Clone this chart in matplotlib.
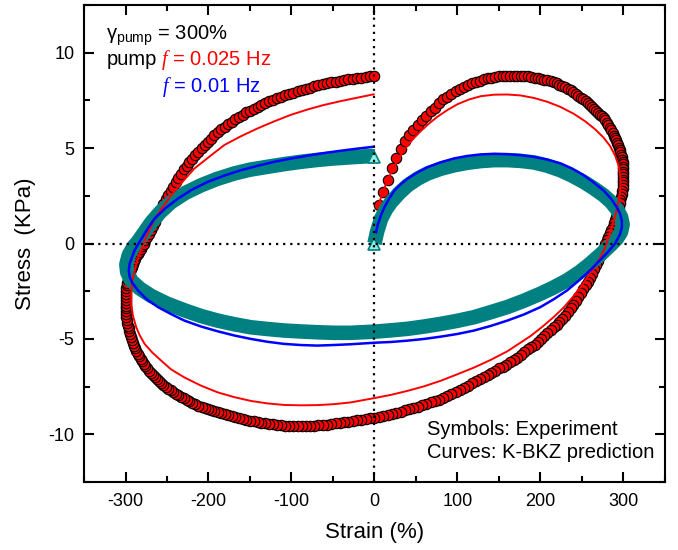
import matplotlib
matplotlib.use("Agg")
import matplotlib.pyplot as plt
from matplotlib.ticker import MultipleLocator

plt.rcParams['font.family'] = ['Liberation Sans', 'DejaVu Sans']
plt.rcParams['mathtext.fontset'] = 'custom'
plt.rcParams['mathtext.rm'] = 'Liberation Sans'
plt.rcParams['mathtext.it'] = 'Liberation Serif:italic'
plt.rcParams['mathtext.bf'] = 'Liberation Sans:bold'
plt.rcParams['axes.unicode_minus'] = False

# ---------------- data ----------------
# Experiment, pump f = 0.025 Hz (red circles), one cycle in four quarters
red_strain_a = [5.2, 10.5, 15.7, 20.9, 26.1, 31.4, 36.6, 41.8, 46.9, 52.1, 57.2, 62.4, 67.5, 72.6, 77.6,
                82.7, 87.7, 92.7, 97.7, 102.6, 107.5, 112.4, 117.2, 122.0, 126.8, 131.5, 136.2, 140.8,
                145.4, 150.0, 154.5, 159.0, 163.4, 167.8, 172.1, 176.3, 180.5, 184.7, 188.8, 192.8,
                196.8, 200.7, 204.6, 208.4, 212.1, 215.8, 219.4, 222.9, 226.4, 229.8, 233.1, 236.4,
                239.6, 242.7, 245.7, 248.7, 251.6, 254.4, 257.2, 259.8, 262.4, 264.9, 267.3, 269.6,
                271.9, 274.1, 276.2, 278.2, 280.1, 281.9, 283.7, 285.3, 286.9, 288.4, 289.8, 291.1,
                292.3, 293.4, 294.5, 295.4, 296.3, 297.1, 297.8, 298.4, 298.9, 299.3, 299.6, 299.8,
                300.0, 300.0]
red_stress_a = [2.0, 2.7, 3.35, 3.95, 4.48, 4.95, 5.35, 5.7, 5.97, 6.22, 6.47, 6.7, 6.92, 7.12, 7.34,
                7.55, 7.7, 7.85, 7.99, 8.12, 8.22, 8.32, 8.4, 8.48, 8.54, 8.6, 8.65, 8.7, 8.73, 8.76,
                8.78, 8.8, 8.8, 8.8, 8.8, 8.79, 8.78, 8.76, 8.73, 8.7, 8.67, 8.63, 8.59, 8.55, 8.5,
                8.45, 8.39, 8.32, 8.25, 8.18, 8.1, 8.02, 7.93, 7.84, 7.75, 7.65, 7.56, 7.47, 7.38,
                7.28, 7.17, 7.06, 6.96, 6.86, 6.76, 6.66, 6.56, 6.45, 6.33, 6.2, 6.07, 5.93, 5.79,
                5.65, 5.52, 5.4, 5.27, 5.15, 5.02, 4.9, 4.77, 4.65, 4.52, 4.4, 4.27, 4.15, 4.02, 3.9,
                3.77, 3.65]
red_strain_b = [300.0, 299.8, 299.6, 299.3, 298.9, 298.4, 297.8, 297.1, 296.3, 295.4, 294.5, 293.4,
                292.3, 291.1, 289.8, 288.4, 286.9, 285.3, 283.7, 281.9, 280.1, 278.2, 276.2, 274.1,
                271.9, 269.6, 267.3, 264.9, 262.4, 259.8, 257.2, 254.4, 251.6, 248.7, 245.7, 242.7,
                239.6, 236.4, 233.1, 229.8, 226.4, 222.9, 219.4, 215.8, 212.1, 208.4, 204.6, 200.7,
                196.8, 192.8, 188.8, 184.7, 180.5, 176.3, 172.1, 167.8, 163.4, 159.0, 154.5, 150.0,
                145.4, 140.8, 136.2, 131.5, 126.8, 122.0, 117.2, 112.4, 107.5, 102.6, 97.7, 92.7,
                87.7, 82.7, 77.6, 72.6, 67.5, 62.4, 57.2, 52.1, 46.9, 41.8, 36.6, 31.4, 26.1, 20.9,
                15.7, 10.5, 5.2, 0.0]
red_stress_b = [3.5, 3.35, 3.2, 3.05, 2.9, 2.75, 2.6, 2.45, 2.28, 2.1, 1.93, 1.75, 1.58, 1.4, 1.23,
                1.05, 0.88, 0.7, 0.53, 0.35, 0.18, 0.0, -0.22, -0.45, -0.68, -0.9, -1.12, -1.35, -1.58,
                -1.8, -2.0, -2.2, -2.4, -2.6, -2.8, -3.0, -3.2, -3.4, -3.6, -3.8, -3.95, -4.1, -4.25,
                -4.4, -4.55, -4.7, -4.85, -5.0, -5.15, -5.3, -5.43, -5.55, -5.7, -5.85, -5.98, -6.1,
                -6.23, -6.35, -6.45, -6.55, -6.68, -6.8, -6.9, -7.0, -7.11, -7.22, -7.33, -7.45,
                -7.56, -7.66, -7.78, -7.9, -8.0, -8.1, -8.18, -8.25, -8.33, -8.4, -8.48, -8.55, -8.62,
                -8.68, -8.75, -8.82, -8.89, -8.95, -9.0, -9.05, -9.09, -9.12]
red_strain_c = [-5.2, -10.5, -15.7, -20.9, -26.1, -31.4, -36.6, -41.8, -46.9, -52.1, -57.2, -62.4,
                -67.5, -72.6, -77.6, -82.7, -87.7, -92.7, -97.7, -102.6, -107.5, -112.4, -117.2,
                -122.0, -126.8, -131.5, -136.2, -140.8, -145.4, -150.0, -154.5, -159.0, -163.4,
                -167.8, -172.1, -176.3, -180.5, -184.7, -188.8, -192.8, -196.8, -200.7, -204.6,
                -208.4, -212.1, -215.8, -219.4, -222.9, -226.4, -229.8, -233.1, -236.4, -239.6,
                -242.7, -245.7, -248.7, -251.6, -254.4, -257.2, -259.8, -262.4, -264.9, -267.3,
                -269.6, -271.9, -274.1, -276.2, -278.2, -280.1, -281.9, -283.7, -285.3, -286.9,
                -288.4, -289.8, -291.1, -292.3, -293.4, -294.5, -295.4, -296.3, -297.1, -297.8,
                -298.4, -298.9, -299.3, -299.6, -299.8, -300.0, -300.0]
red_stress_c = [-9.16, -9.2, -9.24, -9.27, -9.3, -9.33, -9.37, -9.4, -9.43, -9.46, -9.49, -9.51, -9.53,
                -9.54, -9.55, -9.56, -9.56, -9.56, -9.56, -9.55, -9.54, -9.52, -9.5, -9.48, -9.45,
                -9.42, -9.39, -9.35, -9.32, -9.28, -9.24, -9.2, -9.15, -9.1, -9.05, -9.0, -8.95, -8.9,
                -8.85, -8.79, -8.73, -8.67, -8.61, -8.55, -8.49, -8.42, -8.35, -8.28, -8.2, -8.12,
                -8.04, -7.95, -7.87, -7.78, -7.69, -7.6, -7.51, -7.42, -7.32, -7.22, -7.12, -7.02,
                -6.91, -6.8, -6.68, -6.55, -6.43, -6.3, -6.18, -6.05, -5.92, -5.78, -5.64, -5.5, -5.35,
                -5.2, -5.05, -4.9, -4.75, -4.6, -4.45, -4.3, -4.15, -4.0, -3.85, -3.7, -3.55, -3.4,
                -3.25, -3.1]
red_strain_d = [-300.0, -299.8, -299.6, -299.3, -298.9, -298.4, -297.8, -297.1, -296.3, -295.4, -294.5,
                -293.4, -292.3, -291.1, -289.8, -288.4, -286.9, -285.3, -283.7, -281.9, -280.1, -278.2,
                -276.2, -274.1, -271.9, -269.6, -267.3, -264.9, -262.4, -259.8, -257.2, -254.4, -251.6,
                -248.7, -245.7, -242.7, -239.6, -236.4, -233.1, -229.8, -226.4, -222.9, -219.4, -215.8,
                -212.1, -208.4, -204.6, -200.7, -196.8, -192.8, -188.8, -184.7, -180.5, -176.3, -172.1,
                -167.8, -163.4, -159.0, -154.5, -150.0, -145.4, -140.8, -136.2, -131.5, -126.8, -122.0,
                -117.2, -112.4, -107.5, -102.6, -97.7, -92.7, -87.7, -82.7, -77.6, -72.6, -67.5, -62.4,
                -57.2, -52.1, -46.9, -41.8, -36.6, -31.4, -26.1, -20.9, -15.7, -10.5, -5.2, 0.0]
red_stress_d = [-2.95, -2.8, -2.65, -2.5, -2.35, -2.2, -2.05, -1.9, -1.76, -1.62, -1.48, -1.35, -1.22,
                -1.08, -0.94, -0.8, -0.68, -0.55, -0.43, -0.3, -0.15, 0.0, 0.17, 0.35, 0.52, 0.7, 0.92,
                1.15, 1.37, 1.6, 1.83, 2.07, 2.31, 2.55, 2.77, 2.98, 3.2, 3.42, 3.65, 3.88, 4.08, 4.27,
                4.45, 4.63, 4.81, 4.99, 5.16, 5.33, 5.5, 5.67, 5.83, 5.98, 6.12, 6.26, 6.39, 6.52, 6.64,
                6.76, 6.87, 6.97, 7.07, 7.17, 7.27, 7.36, 7.45, 7.53, 7.61, 7.69, 7.77, 7.84, 7.91,
                7.97, 8.04, 8.1, 8.17, 8.23, 8.29, 8.35, 8.4, 8.44, 8.48, 8.52, 8.56, 8.6, 8.64, 8.67,
                8.7, 8.73, 8.77, 8.8]

# Experiment, pump f = 0.01 Hz (dense teal triangles)
teal_strain = [0, 3, 8, 14, 20, 30, 40, 52, 64, 80, 96, 112, 128, 144, 160, 176, 192, 208, 224, 238,
               252, 264, 276, 285, 292, 297, 299, 297, 292, 284, 273, 260, 247, 232, 216, 200, 180, 160,
               140, 120, 100, 80, 60, 40, 20, 0, -29, -49, -69, -89, -109, -129, -149, -169, -189, -209,
               -229, -250, -269, -283, -293, -298, -299, -296, -290, -285, -277, -269, -258, -245, -228,
               -209, -190, -169, -150, -129, -109, -89, -69, -49, -25, -5, 0]
teal_stress = [0.0, 0.6, 1.3, 1.8, 2.17, 2.65, 3.05, 3.4, 3.67, 3.92, 4.1, 4.23, 4.32, 4.37, 4.37, 4.33,
               4.25, 4.08, 3.84, 3.56, 3.23, 2.9, 2.53, 2.18, 1.8, 1.4, 1.0, 0.6, 0.25, -0.1, -0.55, -1.05,
               -1.5, -1.93, -2.3, -2.63, -3.0, -3.33, -3.6, -3.86, -4.05, -4.21, -4.35, -4.47, -4.55, -4.62,
               -4.68, -4.68, -4.65, -4.61, -4.56, -4.48, -4.39, -4.23, -4.04, -3.8, -3.5, -3.15, -2.75,
               -2.35, -1.95, -1.5, -1.1, -0.6, -0.15, 0.1, 0.6, 1.1, 1.65, 2.17, 2.65, 3.05, 3.38, 3.67,
               3.87, 4.02, 4.16, 4.28, 4.38, 4.46, 4.53, 4.58, 4.56]

# K-BKZ prediction, 0.025 Hz (red curve)
kbkz_red_strain = [4, 10, 17, 24, 32, 40, 48, 56, 66, 76, 88, 100, 114, 128, 144, 160, 176, 192, 208, 224,
                   240, 254, 266, 276, 284, 290, 294, 296, 296.5, 296, 294, 291, 287, 282, 277, 272, 264,
                   256, 248, 240, 228, 216, 202, 188, 174, 160, 140, 120, 100, 80, 60, 40, 20, 0, -29, -49,
                   -69, -89, -109, -129, -149, -169, -189, -209, -229, -245, -257, -268, -277, -283, -287,
                   -291, -293, -293, -292, -289, -285, -280, -275, -267, -257, -245, -231, -217, -199, -181,
                   -161, -141, -121, -101, -81, -61, -41, -21, -1]
kbkz_red_stress = [1.9, 2.7, 3.45, 4.05, 4.65, 5.15, 5.55, 5.9, 6.3, 6.65, 7.0, 7.3, 7.55, 7.72, 7.8, 7.81,
                   7.76, 7.63, 7.43, 7.16, 6.8, 6.4, 5.98, 5.55, 5.1, 4.6, 4.1, 3.6, 3.2, 2.7, 2.2, 1.6, 1.0,
                   0.3, -0.3, -0.75, -1.3, -1.8, -2.3, -2.75, -3.35, -3.85, -4.37, -4.85, -5.25, -5.65, -6.1,
                   -6.5, -6.85, -7.19, -7.48, -7.72, -7.93, -8.1, -8.33, -8.42, -8.47, -8.48, -8.46, -8.38,
                   -8.25, -8.05, -7.8, -7.45, -7.02, -6.6, -6.14, -5.7, -5.26, -4.8, -4.39, -3.8, -3.2, -2.6,
                   -2.0, -1.4, -0.8, -0.2, 0.35, 1.12, 1.8, 2.53, 3.25, 3.93, 4.55, 5.16, 5.62, 6.03, 6.4,
                   6.74, 7.02, 7.26, 7.46, 7.64, 7.82]

# K-BKZ prediction, 0.01 Hz (blue curve)
kbkz_blue_strain = [2, 4, 8, 12, 18, 24, 32, 40, 52, 64, 80, 96, 112, 128, 144, 160, 176, 192, 208, 224,
                    238, 252, 264, 276, 285, 292, 296, 298, 298, 296, 290, 280, 270, 260, 246, 232, 216,
                    200, 180, 160, 140, 120, 100, 80, 60, 40, 20, 0, -29, -49, -69, -89, -109, -129, -149,
                    -169, -189, -209, -229, -245, -261, -275, -285, -292, -295, -296, -295, -292, -289,
                    -285, -281, -273, -265, -252, -237, -220, -201, -181, -161, -141, -121, -101, -81,
                    -61, -41, -21, -1]
kbkz_blue_stress = [0.6, 1.0, 1.5, 1.9, 2.38, 2.78, 3.12, 3.4, 3.73, 4.0, 4.26, 4.46, 4.59, 4.67, 4.7,
                    4.68, 4.63, 4.54, 4.4, 4.2, 3.93, 3.58, 3.2, 2.78, 2.35, 1.9, 1.55, 1.2, 0.85, 0.5,
                    0.0, -0.5, -0.95, -1.4, -1.95, -2.46, -2.92, -3.33, -3.72, -4.04, -4.32, -4.56, -4.74,
                    -4.88, -5.0, -5.09, -5.16, -5.2, -5.28, -5.32, -5.35, -5.32, -5.26, -5.15, -5.0, -4.82,
                    -4.6, -4.35, -4.04, -3.7, -3.33, -2.9, -2.46, -2.05, -1.75, -1.4, -1.05, -0.7, -0.35,
                    -0.05, 0.23, 0.8, 1.3, 1.85, 2.35, 2.82, 3.23, 3.56, 3.84, 4.07, 4.28, 4.45, 4.6, 4.74,
                    4.86, 4.97, 5.07]

x_ticks = [-300, -200, -100, 0, 100, 200, 300]
y_ticks = [-10, -5, 0, 5, 10]

red_strain = red_strain_a + red_strain_b + red_strain_c + red_strain_d
red_stress = red_stress_a + red_stress_b + red_stress_c + red_stress_d

# ---------------- figure ----------------
fig = plt.figure(figsize=(6.78, 5.5), dpi=100)
ax = fig.add_axes([0.1239, 0.1236, 0.8569, 0.8673])

ax.plot(red_strain, red_stress, linestyle='none', marker='o', markersize=7.5,
        markerfacecolor='#ff0000', markeredgecolor='black', markeredgewidth=0.8, zorder=2)

teal = '#008080'
ax.plot(teal_strain, teal_stress, color=teal, linewidth=10.5, solid_capstyle='butt',
        solid_joinstyle='round', zorder=3)
ax.plot(teal_strain, teal_stress, linestyle='none', marker='^', markersize=9, markevery=[0, -1],
        markerfacecolor='#8ff0e6', markeredgecolor=teal, markeredgewidth=1.2, zorder=3.5)

ax.plot(kbkz_red_strain, kbkz_red_stress, color='#ff0000', linewidth=1.4, zorder=4)
ax.plot(kbkz_blue_strain, kbkz_blue_stress, color='#0000ff', linewidth=1.8, zorder=4)

ax.axhline(0, color='black', linestyle=(0, (1, 2.2)), linewidth=1.6, zorder=5)
ax.axvline(0, color='black', linestyle=(0, (1, 2.2)), linewidth=1.6, zorder=5)

ax.set_xlim(-350, 350)
ax.set_ylim(-12.5, 12.5)
ax.set_xticks(x_ticks)
ax.set_yticks(y_ticks)
ax.xaxis.set_minor_locator(MultipleLocator(50))
ax.yaxis.set_minor_locator(MultipleLocator(2.5))
ax.tick_params(which='both', direction='in', top=True, right=True, width=1.5)
ax.tick_params(which='major', length=7, labelsize=13)
ax.tick_params(which='minor', length=4.5)
ax.tick_params(axis='x', which='major', pad=8)
ax.tick_params(axis='y', which='major', pad=7)
for s in ax.spines.values():
    s.set_linewidth(1.5)

ax.set_xlabel('Strain (%)', fontsize=16)
ax.set_ylabel('Stress  (KPa)', fontsize=16)
ax.xaxis.set_label_coords(0.5, -0.083)
ax.yaxis.set_label_coords(-0.083, 0.5)

fs = 14.5
ax.text(0.038, 0.9266, r'γ$_{\mathrm{pump}}$ = 300%', transform=ax.transAxes, fontsize=fs,
        va='baseline', ha='left', color='black')
ax.text(0.039, 0.874, 'pump', transform=ax.transAxes, fontsize=fs, va='baseline', ha='left',
        color='black')
ax.text(0.132, 0.874, r'$f$ = 0.025 Hz', transform=ax.transAxes, fontsize=fs, va='baseline',
        ha='left', color='#ff0000')
ax.text(0.134, 0.818, r'$f$ = 0.01 Hz', transform=ax.transAxes, fontsize=fs, va='baseline',
        ha='left', color='#0000ff')
ax.text(0.59, 0.0992, 'Symbols: Experiment', transform=ax.transAxes, fontsize=fs, va='baseline',
        ha='left', color='black')
ax.text(0.59, 0.0503, 'Curves: K-BKZ prediction', transform=ax.transAxes, fontsize=fs, va='baseline',
        ha='left', color='black')

fig.savefig('out.png', dpi=100)
